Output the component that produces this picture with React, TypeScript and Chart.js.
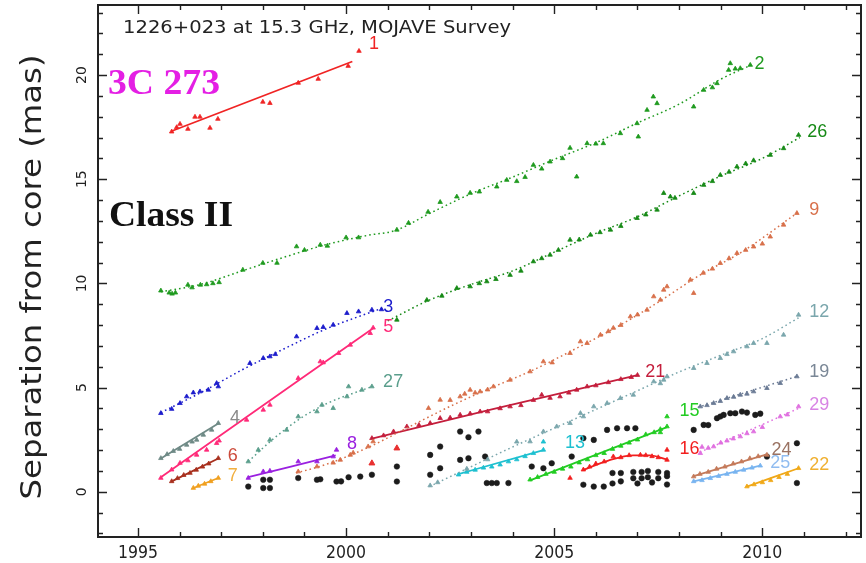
import { useEffect, useRef } from "react";
import { Chart, registerables } from "chart.js";

Chart.register(...registerables);

type P = [number, number];

// axis ranges and labelled ticks
const yearRange: P = [1994.04, 2012.37];
const sepRange: P = [-2.17, 23.36];
const yearTicks = [1995, 2000, 2005, 2010];
const sepTicks = [0, 5, 10, 15, 20];

// component positions (epoch, separation in mas) and their kinematic fits
const c1Pts: P[] = [[1995.81, 17.28], [1995.93, 17.49], [1996.01, 17.65], [1996.2, 17.41], [1996.37, 17.99], [1996.49, 17.99], [1996.73, 17.46], [1996.92, 17.89], [1998.0, 18.71], [1998.17, 18.65], [1998.85, 19.62], [1999.33, 19.81], [2000.05, 20.43], [2000.31, 21.15]];
const c1Fit: P[] = [[1995.8, 17.3], [2000.15, 20.65]];

const c2Pts: P[] = [[1995.55, 9.65], [1995.75, 9.55], [1995.82, 9.5], [1995.9, 9.55], [1996.2, 9.93], [1996.3, 9.8], [1996.5, 9.93], [1996.65, 9.95], [1996.8, 10.0], [1996.95, 10.05], [1997.52, 10.65], [1998.0, 10.98], [1998.34, 10.98], [1998.81, 11.77], [1999.0, 11.6], [1999.38, 11.85], [1999.55, 11.8], [2000.0, 12.2], [2000.3, 12.2], [2001.22, 12.57], [2001.5, 12.9], [2001.97, 13.43], [2002.26, 13.9], [2002.66, 14.16], [2002.98, 14.34], [2003.2, 14.4], [2003.62, 14.64], [2003.86, 14.96], [2004.1, 14.9], [2004.3, 15.1], [2004.5, 15.68], [2004.7, 15.5], [2004.9, 15.84], [2005.2, 16.0], [2005.38, 16.5], [2005.54, 15.12], [2005.79, 16.72], [2006.0, 16.7], [2006.18, 16.72], [2006.59, 17.2], [2006.99, 17.68], [2007.02, 17.04], [2007.23, 18.32], [2007.38, 18.96], [2007.47, 18.64], [2008.35, 18.48], [2008.59, 19.28], [2008.8, 19.4], [2008.91, 19.6], [2009.19, 20.24], [2009.23, 20.56], [2009.35, 20.3], [2009.47, 20.32], [2009.71, 20.48]];
const c2Fit: P[] = [[1995.55, 9.6], [1996.5, 9.95], [1997.5, 10.6], [1998.5, 11.25], [1999.5, 11.85], [2000.5, 12.3], [2001.2, 12.55], [2002.0, 13.35], [2003.0, 14.3], [2004.0, 15.1], [2005.0, 15.95], [2006.0, 16.75], [2007.0, 17.7], [2008.0, 18.6], [2009.0, 19.8], [2009.7, 20.45]];

const c26Pts: P[] = [[2001.22, 8.25], [2001.94, 9.2], [2002.3, 9.4], [2002.66, 9.77], [2002.98, 9.85], [2003.2, 10.0], [2003.38, 10.09], [2003.6, 10.2], [2003.94, 10.4], [2004.2, 10.6], [2004.5, 11.05], [2004.7, 11.2], [2004.9, 11.37], [2005.1, 11.6], [2005.38, 12.09], [2005.6, 12.1], [2005.87, 12.33], [2006.1, 12.45], [2006.35, 12.57], [2006.6, 12.75], [2006.99, 13.13], [2007.2, 13.3], [2007.47, 13.53], [2007.63, 14.33], [2007.79, 14.16], [2007.9, 14.1], [2008.35, 14.33], [2008.59, 14.72], [2008.8, 14.9], [2008.99, 15.2], [2009.2, 15.35], [2009.39, 15.6], [2009.6, 15.75], [2009.79, 15.9], [2010.19, 16.16], [2010.51, 16.48], [2010.87, 17.12]];
const c26Fit: P[] = [[2001.0, 8.2], [2002.0, 9.2], [2003.0, 9.95], [2004.0, 10.6], [2005.0, 11.5], [2006.0, 12.4], [2007.0, 13.2], [2008.0, 14.2], [2009.0, 15.15], [2010.0, 16.0], [2010.9, 17.0]];

const c9Pts: P[] = [[1998.85, 0.97], [1999.3, 1.21], [1999.69, 1.39], [1999.86, 1.53], [2000.1, 1.77], [2000.17, 1.87], [2000.53, 2.17], [2000.65, 2.41], [2001.98, 4.01], [2002.26, 4.41], [2002.5, 4.4], [2002.74, 4.57], [2002.85, 4.7], [2002.98, 4.89], [2003.1, 4.75], [2003.22, 4.81], [2003.4, 4.9], [2003.54, 5.05], [2003.94, 5.37], [2004.42, 5.77], [2004.74, 6.25], [2004.95, 6.2], [2005.38, 6.65], [2005.63, 7.21], [2005.79, 7.13], [2006.11, 7.53], [2006.3, 7.7], [2006.42, 7.86], [2006.6, 8.0], [2006.83, 8.41], [2007.0, 8.5], [2007.23, 8.73], [2007.39, 9.37], [2007.55, 9.21], [2007.63, 9.69], [2007.71, 9.85], [2008.27, 10.17], [2008.35, 9.53], [2008.58, 10.5], [2008.8, 10.7], [2008.99, 10.97], [2009.2, 11.2], [2009.39, 11.45], [2009.6, 11.6], [2009.79, 11.76], [2010.0, 11.9], [2010.19, 12.24], [2010.51, 12.81], [2010.83, 13.37]];
const c9Fit: P[] = [[1998.8, 0.9], [1999.5, 1.3], [2000.5, 2.1], [2001.5, 3.1], [2002.5, 4.1], [2003.5, 5.0], [2004.5, 5.85], [2005.5, 6.85], [2006.5, 7.9], [2007.5, 9.1], [2008.5, 10.4], [2009.5, 11.5], [2010.85, 13.4]];

const c3Pts: P[] = [[1995.55, 3.77], [1995.81, 3.97], [1996.01, 4.25], [1996.17, 4.57], [1996.33, 4.76], [1996.49, 4.81], [1996.69, 4.89], [1996.89, 5.21], [1996.93, 5.05], [1997.69, 6.17], [1998.01, 6.41], [1998.17, 6.49], [1998.3, 6.6], [1998.81, 7.45], [1999.3, 7.85], [1999.45, 7.9], [1999.69, 8.01], [2000.02, 8.57], [2000.3, 8.65], [2000.62, 8.73], [2000.85, 8.75]];
const c3Fit: P[] = [[1995.55, 3.8], [1996.5, 4.75], [1997.5, 5.85], [1998.5, 6.85], [1999.5, 7.8], [2000.85, 8.8]];

const c5Pts: P[] = [[1995.55, 0.66], [1995.81, 1.06], [1996.01, 1.38], [1996.2, 1.5], [1996.41, 1.77], [1996.65, 2.01], [1996.89, 2.33], [1996.95, 2.45], [1997.61, 3.45], [1998.01, 3.93], [1998.17, 4.17], [1998.85, 5.45], [1999.38, 6.25], [1999.45, 6.2], [1999.82, 6.65], [2000.1, 7.05], [2000.58, 7.61], [2000.65, 7.87]];
const c5Fit: P[] = [[1995.55, 0.7], [2000.65, 7.85]];

const c4Pts: P[] = [[1995.55, 1.61], [1995.7, 1.8], [1995.85, 1.95], [1996.0, 2.05], [1996.17, 2.25], [1996.3, 2.4], [1996.41, 2.49], [1996.57, 2.73], [1996.77, 2.97], [1996.93, 3.29]];
const c4Fit: P[] = [[1995.55, 1.6], [1996.95, 3.3]];

const c6Pts: P[] = [[1995.81, 0.5], [1995.95, 0.65], [1996.1, 0.8], [1996.25, 0.9], [1996.4, 1.05], [1996.55, 1.2], [1996.7, 1.35], [1996.93, 1.61]];
const c6Fit: P[] = [[1995.81, 0.5], [1996.93, 1.6]];

const c7Pts: P[] = [[1996.33, 0.18], [1996.45, 0.28], [1996.6, 0.38], [1996.75, 0.5], [1996.93, 0.66]];
const c7Fit: P[] = [[1996.33, 0.18], [1996.93, 0.66]];

const c8Pts: P[] = [[1997.65, 0.66], [1998.01, 0.97], [1998.17, 1.0], [1998.85, 1.45], [1999.3, 1.45], [1999.69, 1.69], [1999.77, 2.01]];
const c8Fit: P[] = [[1997.65, 0.7], [1999.75, 1.75]];

const c27Pts: P[] = [[1997.65, 1.45], [1997.89, 2.01], [1998.17, 2.49], [1998.57, 2.97], [1998.85, 3.61], [1999.3, 3.85], [1999.42, 4.17], [1999.69, 4.01], [2000.02, 4.57], [2000.06, 5.05], [2000.38, 4.89], [2000.62, 5.05]];
const c27Fit: P[] = [[1997.65, 1.45], [1998.2, 2.45], [1998.85, 3.45], [1999.5, 4.2], [2000.62, 5.05]];

const c21Pts: P[] = [[2000.62, 2.57], [2000.9, 2.7], [2001.14, 2.89], [2001.46, 3.13], [2001.75, 3.2], [2002.02, 3.29], [2002.26, 3.53], [2002.5, 3.55], [2002.74, 3.69], [2002.98, 3.75], [2003.22, 3.85], [2003.4, 3.85], [2003.7, 4.0], [2003.94, 4.09], [2004.2, 4.15], [2004.5, 4.4], [2004.7, 4.65], [2004.9, 4.5], [2005.14, 4.57], [2005.35, 4.75], [2005.54, 4.89], [2005.79, 5.05], [2006.0, 5.1], [2006.3, 5.25], [2006.6, 5.4], [2006.85, 5.5], [2007.0, 5.6]];
const c21Fit: P[] = [[2000.62, 2.55], [2003.5, 3.95], [2007.0, 5.6]];

const c12Pts: P[] = [[2002.02, 0.3], [2002.2, 0.45], [2002.9, 1.1], [2003.4, 1.55], [2004.1, 2.4], [2004.42, 2.41], [2004.74, 2.89], [2005.06, 3.13], [2005.38, 3.29], [2005.63, 3.77], [2005.7, 3.61], [2005.95, 4.09], [2006.27, 4.25], [2006.59, 4.49], [2006.9, 4.65], [2007.39, 5.29], [2007.55, 5.2], [2007.63, 5.37], [2007.71, 5.53], [2008.35, 5.93], [2008.67, 6.17], [2008.99, 6.41], [2009.15, 6.6], [2009.31, 6.73], [2009.63, 6.97], [2009.79, 7.13], [2010.11, 7.13], [2010.51, 7.53], [2010.87, 8.49]];
const c12Fit: P[] = [[2002.0, 0.25], [2003.0, 1.2], [2004.0, 2.15], [2005.0, 3.05], [2006.0, 3.95], [2007.0, 4.85], [2008.0, 5.75], [2009.0, 6.55], [2010.0, 7.35], [2010.87, 8.35]];

const c13Pts: P[] = [[2002.7, 0.82], [2002.9, 0.95], [2003.1, 1.05], [2003.3, 1.15], [2003.5, 1.2], [2003.7, 1.3], [2003.9, 1.45], [2004.1, 1.55], [2004.3, 1.7], [2004.5, 1.85], [2004.74, 2.01], [2004.74, 2.4]];
const c13Fit: P[] = [[2002.7, 0.85], [2004.74, 2.0]];

const c15Pts: P[] = [[2004.42, 0.58], [2004.6, 0.7], [2004.8, 0.85], [2005.0, 0.95], [2005.2, 1.1], [2005.4, 1.2], [2005.6, 1.4], [2005.8, 1.55], [2006.0, 1.75], [2006.2, 1.85], [2006.4, 2.05], [2006.6, 2.2], [2006.8, 2.35], [2007.0, 2.5], [2007.2, 2.75], [2007.4, 2.85], [2007.55, 3.0], [2007.55, 2.85], [2007.71, 3.13], [2007.71, 3.61]];
const c15Fit: P[] = [[2004.42, 0.55], [2007.71, 3.1]];

const c16Pts: P[] = [[2005.38, 0.66], [2005.7, 1.06], [2005.85, 1.2], [2006.0, 1.35], [2006.2, 1.45], [2006.42, 1.69], [2006.6, 1.65], [2006.8, 1.75], [2007.07, 1.77], [2007.2, 1.75], [2007.35, 1.7], [2007.5, 1.65], [2007.71, 1.53], [2007.71, 2.01]];
const c16Fit: P[] = [[2005.7, 1.05], [2006.3, 1.5], [2006.9, 1.75], [2007.3, 1.75], [2007.71, 1.55]];

const c19Pts: P[] = [[2008.51, 4.09], [2008.67, 4.15], [2008.83, 4.25], [2008.99, 4.35], [2009.15, 4.49], [2009.31, 4.55], [2009.47, 4.65], [2009.63, 4.7], [2009.79, 4.81], [2010.11, 4.97], [2010.43, 5.21], [2010.83, 5.53]];
const c19Fit: P[] = [[2008.45, 4.05], [2010.85, 5.55]];

const c29Pts: P[] = [[2008.51, 1.85], [2008.55, 2.15], [2008.7, 2.1], [2008.83, 2.17], [2009.0, 2.35], [2009.15, 2.45], [2009.3, 2.55], [2009.47, 2.65], [2009.63, 2.8], [2009.79, 2.89], [2010.0, 3.1], [2010.43, 3.61], [2010.6, 3.7], [2010.87, 4.09]];
const c29Fit: P[] = [[2008.5, 1.9], [2010.87, 4.0]];

const c24Pts: P[] = [[2008.35, 0.73], [2008.5, 0.85], [2008.7, 0.95], [2008.9, 1.1], [2009.1, 1.2], [2009.3, 1.35], [2009.5, 1.45], [2009.7, 1.6], [2009.9, 1.7], [2010.11, 1.77]];
const c24Fit: P[] = [[2008.35, 0.75], [2010.11, 1.8]];

const c25Pts: P[] = [[2008.35, 0.5], [2008.55, 0.55], [2008.75, 0.65], [2008.95, 0.75], [2009.15, 0.85], [2009.35, 0.95], [2009.55, 1.05], [2009.75, 1.15], [2009.95, 1.25]];
const c25Fit: P[] = [[2008.35, 0.5], [2009.95, 1.25]];

const c22Pts: P[] = [[2009.63, 0.25], [2009.8, 0.35], [2010.0, 0.45], [2010.2, 0.55], [2010.4, 0.7], [2010.6, 0.85], [2010.87, 1.13]];
const c22Fit: P[] = [[2009.63, 0.25], [2010.87, 1.13]];

// unidentified features without a kinematic fit
const extraRed: P[] = [[2000.62, 1.37], [2001.22, 2.09]];
const blackDots: P[] = [[1997.65, 0.25], [1998.01, 0.58], [1998.17, 0.58], [1998.01, 0.18], [1998.17, 0.18], [1998.85, 0.66], [1999.3, 0.58], [1999.38, 0.6], [1999.77, 0.49], [1999.88, 0.5], [2000.06, 0.7], [2000.34, 0.73], [2000.62, 0.82], [2001.22, 1.21], [2001.22, 0.49], [2002.02, 1.77], [2002.26, 2.17], [2002.02, 0.82], [2002.26, 1.13], [2002.74, 2.89], [2002.94, 2.62], [2003.18, 2.89], [2002.74, 1.53], [2002.94, 1.61], [2003.34, 1.69], [2003.38, 0.42], [2003.5, 0.42], [2003.62, 0.42], [2003.9, 0.42], [2004.46, 1.21], [2004.74, 1.13], [2004.94, 1.37], [2005.42, 1.69], [2005.7, 2.57], [2005.95, 2.49], [2006.27, 2.97], [2006.51, 3.05], [2006.75, 3.05], [2006.95, 3.05], [2005.7, 0.34], [2005.95, 0.25], [2006.19, 0.25], [2006.4, 0.9], [2006.4, 0.4], [2006.6, 0.9], [2006.6, 0.5], [2006.9, 0.95], [2006.9, 0.65], [2007.0, 0.4], [2007.1, 0.95], [2007.1, 0.65], [2007.25, 1.0], [2007.25, 0.7], [2007.35, 0.45], [2007.5, 0.95], [2007.5, 0.65], [2007.71, 0.35], [2007.71, 0.75], [2007.71, 0.9], [2008.35, 2.97], [2008.59, 3.21], [2008.7, 3.2], [2008.91, 3.53], [2008.99, 3.61], [2009.07, 3.69], [2009.23, 3.77], [2009.35, 3.77], [2009.51, 3.85], [2009.63, 3.8], [2009.83, 3.69], [2009.95, 3.75], [2010.11, 1.69], [2010.83, 2.33], [2010.83, 0.42]];

// label anchor (epoch, separation) for each component id
const labelAt: Record<string, P> = {
  "1": [2000.67, 21.49], "2": [2009.93, 20.53], "26": [2011.32, 17.27], "9": [2011.25, 13.53],
  "3": [2001.01, 8.87], "5": [2001.01, 7.91], "27": [2001.13, 5.28], "4": [1997.33, 3.55],
  "6": [1997.28, 1.73], "7": [1997.28, 0.77], "8": [2000.14, 2.3], "21": [2007.43, 5.76],
  "13": [2005.5, 2.35], "15": [2008.25, 3.88], "16": [2008.25, 2.06], "12": [2011.37, 8.63],
  "19": [2011.37, 5.76], "29": [2011.37, 4.17], "24": [2010.46, 2.01], "25": [2010.43, 1.39],
  "22": [2011.37, 1.29],
};

interface Comp { id: string; pts: P[]; fit: P[]; color: string; text?: string; dotted: boolean; }

const comps: Comp[] = [
  { id: "1", pts: c1Pts, fit: c1Fit, color: "#f02424", dotted: false },
  { id: "2", pts: c2Pts, fit: c2Fit, color: "#1f9a1f", dotted: true },
  { id: "26", pts: c26Pts, fit: c26Fit, color: "#178a17", dotted: true },
  { id: "9", pts: c9Pts, fit: c9Fit, color: "#d8704a", dotted: true },
  { id: "3", pts: c3Pts, fit: c3Fit, color: "#1c1ccc", dotted: true },
  { id: "5", pts: c5Pts, fit: c5Fit, color: "#ff2a78", dotted: false },
  { id: "27", pts: c27Pts, fit: c27Fit, color: "#5a9e8c", dotted: true },
  { id: "4", pts: c4Pts, fit: c4Fit, color: "#6f8a86", text: "#8a8a8a", dotted: false },
  { id: "6", pts: c6Pts, fit: c6Fit, color: "#a8301e", text: "#cc4a3a", dotted: false },
  { id: "7", pts: c7Pts, fit: c7Fit, color: "#f0a020", text: "#f2b040", dotted: false },
  { id: "8", pts: c8Pts, fit: c8Fit, color: "#9a20e0", dotted: false },
  { id: "21", pts: c21Pts, fit: c21Fit, color: "#c41e3c", dotted: false },
  { id: "12", pts: c12Pts, fit: c12Fit, color: "#7aa6ac", dotted: true },
  { id: "13", pts: c13Pts, fit: c13Fit, color: "#1ec0d0", dotted: false },
  { id: "15", pts: c15Pts, fit: c15Fit, color: "#22cc22", dotted: false },
  { id: "16", pts: c16Pts, fit: c16Fit, color: "#f21e1e", dotted: false },
  { id: "19", pts: c19Pts, fit: c19Fit, color: "#6a7a94", text: "#7a8796", dotted: true },
  { id: "29", pts: c29Pts, fit: c29Fit, color: "#e070e0", text: "#d884e4", dotted: true },
  { id: "24", pts: c24Pts, fit: c24Fit, color: "#c47a5a", text: "#9a7262", dotted: false },
  { id: "25", pts: c25Pts, fit: c25Fit, color: "#78b4f0", text: "#90bcf0", dotted: false },
  { id: "22", pts: c22Pts, fit: c22Fit, color: "#f0a818", text: "#f0b030", dotted: false },
];

const xy = (p: P[]) => p.map(([x, y]) => ({ x, y }));

function put(ctx: CanvasRenderingContext2D, s: string, x: number, y: number, font: string, color: string, w?: number, rot = 0) {
  ctx.save();
  ctx.translate(x, y);
  ctx.rotate(rot);
  ctx.font = font;
  ctx.fillStyle = color;
  ctx.textAlign = "center";
  ctx.textBaseline = "middle";
  if (w) ctx.scale(w / ctx.measureText(s).width, 1);
  ctx.fillText(s, 0, 0);
  ctx.restore();
}

const framePlugin = {
  id: "frame",
  afterDraw(chart: any) {
    const { ctx, chartArea: a, scales } = chart;
    const xs = scales.x, ys = scales.y;
    ctx.save();
    ctx.strokeStyle = "#222";
    ctx.lineWidth = 1.4;
    ctx.beginPath();
    for (let v = Math.ceil(yearRange[0]); v <= yearRange[1]; v++) {
      const px = Math.round(xs.getPixelForValue(v)) + 0.5;
      const len = v % 5 === 0 ? 9 : 5;
      ctx.moveTo(px, a.bottom); ctx.lineTo(px, a.bottom - len);
      ctx.moveTo(px, a.top); ctx.lineTo(px, a.top + len);
    }
    for (let v = Math.ceil(sepRange[0]); v <= sepRange[1]; v++) {
      const py = Math.round(ys.getPixelForValue(v)) + 0.5;
      const len = v % 5 === 0 ? 9 : 5;
      ctx.moveTo(a.left, py); ctx.lineTo(a.left + len, py);
      ctx.moveTo(a.right, py); ctx.lineTo(a.right - len, py);
    }
    ctx.stroke();
    ctx.lineWidth = 2;
    ctx.strokeRect(a.left, a.top, a.right - a.left, a.bottom - a.top);

    for (const v of yearTicks) {
      put(ctx, String(v), xs.getPixelForValue(v), a.bottom + 17, '17px "DejaVu Sans"', "#222", 40);
    }
    for (const v of sepTicks) {
      put(ctx, String(v), a.left - 16, ys.getPixelForValue(v), '14px "DejaVu Sans"', "#222", undefined, -Math.PI / 2);
    }
    put(ctx, "Separation from core (mas)", 33, (a.top + a.bottom) / 2 + 6, '29px "DejaVu Sans"', "#222", 445, -Math.PI / 2);

    put(ctx, "1226+023 at 15.3 GHz, MOJAVE Survey", a.left + 219, a.top + 23, '18px "DejaVu Sans"', "#222", 388);
    put(ctx, "3C 273", a.left + 66, a.top + 80, 'bold 36px "Liberation Serif"', "#e41fe4", 112);
    put(ctx, "Class II", a.left + 73, a.top + 212, 'bold 36px "Liberation Serif"', "#111", 124);

    for (const c of comps) {
      const [lx, ly] = labelAt[c.id];
      put(ctx, c.id, xs.getPixelForValue(lx), ys.getPixelForValue(ly), '18px "Liberation Sans"', c.text ?? c.color);
    }
    ctx.restore();
  },
};

export default function App() {
  const ref = useRef<HTMLCanvasElement>(null);
  useEffect(() => {
    if (!ref.current) return;
    const datasets: any[] = [];
    for (const c of comps) {
      datasets.push({
        data: xy(c.fit),
        showLine: true,
        pointRadius: 0,
        borderColor: c.color,
        borderWidth: c.dotted ? 1.5 : 1.8,
        borderDash: c.dotted ? [1.6, 3] : [],
        cubicInterpolationMode: "monotone",
        fill: false,
      });
      datasets.push({
        data: xy(c.pts),
        showLine: false,
        pointStyle: "triangle",
        pointRadius: 2.6,
        pointBackgroundColor: c.color,
        pointBorderColor: c.color,
        pointBorderWidth: 0.8,
      });
    }
    datasets.push({
      data: xy(extraRed),
      showLine: false,
      pointStyle: "triangle",
      pointRadius: 3.4,
      pointBackgroundColor: "#e83030",
      pointBorderColor: "#e83030",
    });
    datasets.push({
      data: xy(blackDots),
      showLine: false,
      pointStyle: "circle",
      pointRadius: 2.8,
      pointBackgroundColor: "#1c1c1c",
      pointBorderColor: "#1c1c1c",
      pointBorderWidth: 0.5,
    });

    const chart = new Chart(ref.current, {
      type: "scatter",
      data: { datasets },
      options: {
        animation: false,
        responsive: false,
        devicePixelRatio: 1,
        events: [],
        layout: { padding: { left: 98, top: 5, right: 5, bottom: 26 } },
        plugins: { legend: { display: false }, tooltip: { enabled: false } },
        scales: {
          x: { type: "linear", min: yearRange[0], max: yearRange[1], display: false },
          y: { type: "linear", min: sepRange[0], max: sepRange[1], display: false },
        },
      },
      plugins: [framePlugin],
    });
    return () => chart.destroy();
  }, []);

  return (
    <div style={{ position: "absolute", left: 0, top: 0, width: 866, height: 563, background: "#fff" }}>
      <canvas ref={ref} width={866} height={563} />
    </div>
  );
}
